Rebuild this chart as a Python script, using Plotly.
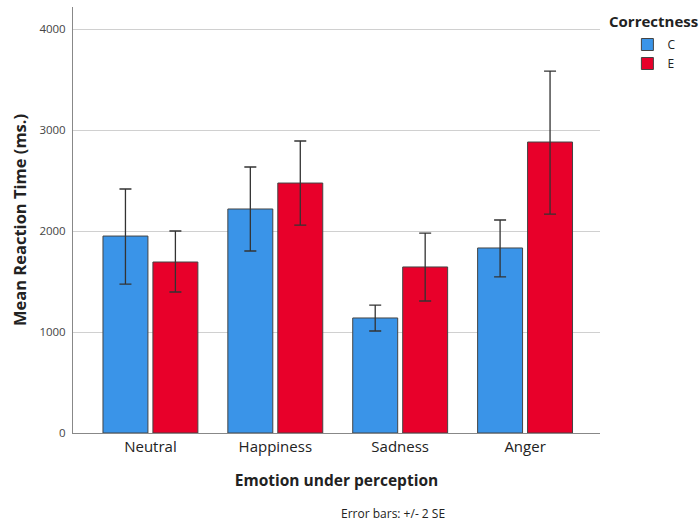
import plotly.graph_objects as go

categories = ["Neutral", "Happiness", "Sadness", "Anger"]
mean_c = [1950, 2218, 1139, 1832]
upper_c = [2416, 2634, 1267, 2109]
lower_c = [1475, 1802, 1010, 1545]
mean_e = [1693, 2475, 1644, 2881]
upper_e = [2000, 2891, 1980, 3584]
lower_e = [1396, 2059, 1307, 2168]
yticks = [0, 1000, 2000, 3000, 4000]

FONT = "Open Sans"
blue = "#3A94E8"
red = "#E8002A"

def err(mean, up, lo):
    return dict(type="data", symmetric=False,
                array=[u - m for u, m in zip(up, mean)],
                arrayminus=[m - l for m, l in zip(mean, lo)],
                color="#333333", thickness=1.3, width=6)

fig = go.Figure()
fig.add_trace(go.Bar(x=categories, y=mean_c, name="C",
                     marker=dict(color=blue, line=dict(color="#444444", width=1)),
                     error_y=err(mean_c, upper_c, lower_c)))
fig.add_trace(go.Bar(x=categories, y=mean_e, name="E",
                     marker=dict(color=red, line=dict(color="#444444", width=1)),
                     error_y=err(mean_e, upper_e, lower_e)))

L, R, T, B = 73, 100, 7, 89
pw, ph = 700 - L - R, 522 - T - B
def px(x): return (x - L) / pw
def py(y): return (522 - B - y) / ph

fig.update_layout(
    width=700, height=522,
    margin=dict(l=L, r=R, t=T, b=B),
    paper_bgcolor="white", plot_bgcolor="white",
    barmode="group", bargap=0.2, bargroupgap=0.1,
    font=dict(family=FONT, color="#222222"),
    showlegend=True,
    legend=dict(x=1.052, xanchor="left", y=0.946, yanchor="top",
                font=dict(size=12, family=FONT, color="#222222"),
                itemwidth=30, tracegroupgap=0, bgcolor="rgba(0,0,0,0)"),
    xaxis=dict(range=[-0.62, 3.6], showline=True, linecolor="#888888", linewidth=1,
               ticks="", tickfont=dict(size=15, color="#222222"),
               title=dict(text="<b>Emotion under perception</b>", font=dict(size=15.5, color="#222222"), standoff=20)),
    yaxis=dict(range=[0, 4218], tickvals=yticks, ticktext=[str(v) for v in yticks],
               showline=True, linecolor="#888888", linewidth=1,
               showgrid=True, gridcolor="#d0d0d0", gridwidth=1, zeroline=False,
               tickfont=dict(size=11.5, color="#444444"), ticks="", ticklabelstandoff=4,
               title=dict(text="<b>Mean Reaction Time (ms.)</b>", font=dict(size=16.5, color="#222222"), standoff=8)),
)
fig.add_annotation(text="<b>Correctness</b>", x=px(653), y=py(21), xref="paper", yref="paper",
                   showarrow=False, font=dict(size=15, color="#222222"), xanchor="center", yanchor="middle")
fig.add_annotation(text="Error bars: +/- 2 SE", x=px(393), y=py(513), xref="paper", yref="paper",
                   showarrow=False, font=dict(size=12, color="#222222"), xanchor="center", yanchor="middle")

fig.write_html("out.html")
